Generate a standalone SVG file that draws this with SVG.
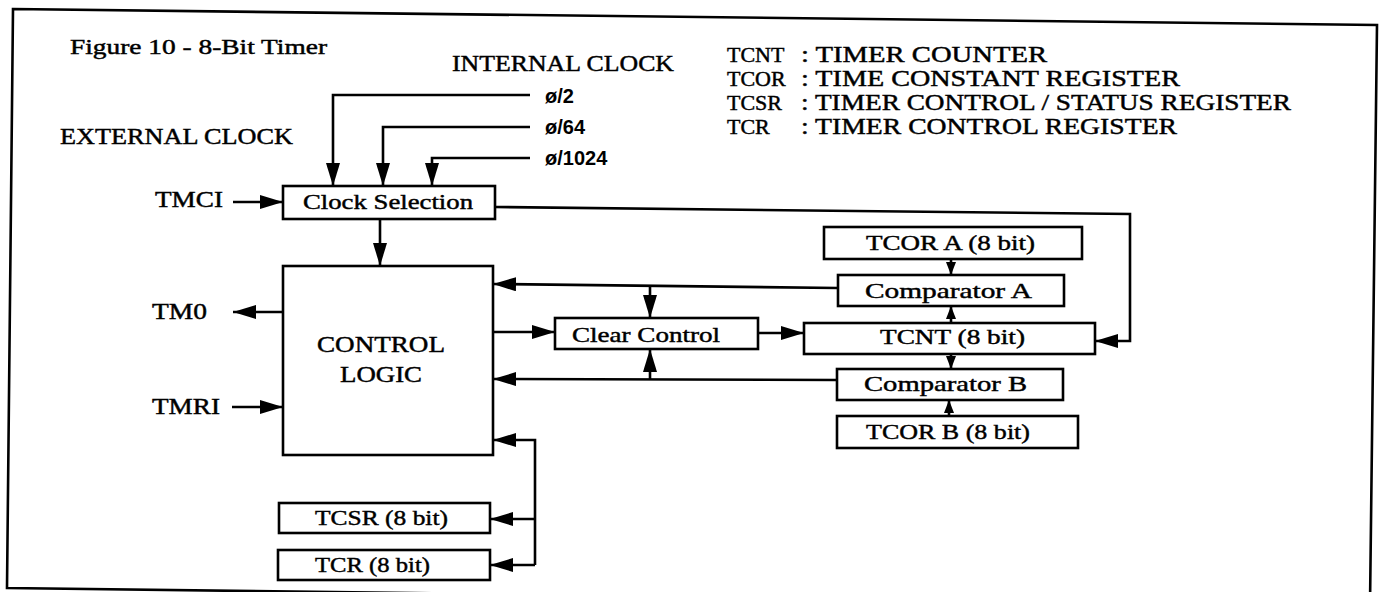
<svg xmlns="http://www.w3.org/2000/svg" width="1382" height="592" viewBox="0 0 1382 592">
<style>
text{font-family:"Liberation Serif","Times New Roman",serif;fill:#000;stroke:#000;stroke-width:0.45}
.lbl{font-size:23px}
.box{font-size:22px}
.leg{font-size:23px}
.ab{font-size:22px}
.phi{font-family:"Liberation Sans",Arial,sans-serif;font-weight:bold;font-size:20px;stroke:none}
rect{fill:#fff;stroke:#000;stroke-width:2.6}
.w{fill:none;stroke:#000;stroke-width:2.6}
</style>
<defs>
<marker id="a" markerUnits="userSpaceOnUse" markerWidth="24" markerHeight="16" refX="23" refY="7" orient="auto"><path d="M0,0 L23,7 L0,14 z" fill="#000"/></marker>
<marker id="s" markerUnits="userSpaceOnUse" markerWidth="14" markerHeight="12" refX="13" refY="5" orient="auto"><path d="M0,0 L13,5 L0,10 z" fill="#000"/></marker>
</defs>
<rect fill="#fff" x="0" y="0" width="1382" height="592" style="stroke:none"/>
<polygon points="13,9 1377,25 1370,605 7,588" fill="none" stroke="#000" stroke-width="2.6"/>
<text x="70" y="54" style="font-size:21px" textLength="257" lengthAdjust="spacingAndGlyphs">Figure 10 - 8-Bit Timer</text>
<text class="lbl" x="452" y="71" textLength="222" lengthAdjust="spacingAndGlyphs">INTERNAL CLOCK</text>
<text class="lbl" x="60" y="144" textLength="233" lengthAdjust="spacingAndGlyphs">EXTERNAL CLOCK</text>
<text class="phi" x="545" y="103">ø/2</text>
<text class="phi" x="545" y="134">ø/64</text>
<text class="phi" x="545" y="165">ø/1024</text>
<g id="legend">
<text class="ab" x="727" y="62">TCNT</text><text class="leg" x="801" y="62" textLength="246" lengthAdjust="spacingAndGlyphs">: TIMER COUNTER</text>
<text class="ab" x="727" y="86">TCOR</text><text class="leg" x="801" y="86" textLength="379" lengthAdjust="spacingAndGlyphs">: TIME CONSTANT REGISTER</text>
<text class="ab" x="727" y="110">TCSR</text><text class="leg" x="801" y="110" textLength="490" lengthAdjust="spacingAndGlyphs">: TIMER CONTROL / STATUS REGISTER</text>
<text class="ab" x="727" y="134">TCR</text><text class="leg" x="801" y="134" textLength="376" lengthAdjust="spacingAndGlyphs">: TIMER CONTROL REGISTER</text>
</g>
<text class="lbl" x="155" y="207" textLength="68" lengthAdjust="spacingAndGlyphs">TMCI</text>
<text class="lbl" x="152" y="319" textLength="55" lengthAdjust="spacingAndGlyphs">TM0</text>
<text class="lbl" x="152" y="414" textLength="68" lengthAdjust="spacingAndGlyphs">TMRI</text>
<g id="clock-selection"><rect x="283" y="186" width="212" height="33"/><text class="box" x="303" y="209" textLength="170" lengthAdjust="spacingAndGlyphs">Clock Selection</text></g>
<g id="control-logic"><rect x="283" y="266" width="210" height="189"/><text class="lbl" x="317" y="352" textLength="128" lengthAdjust="spacingAndGlyphs">CONTROL</text><text class="lbl" x="340" y="382" textLength="82" lengthAdjust="spacingAndGlyphs">LOGIC</text></g>
<g id="clear-control"><rect x="555" y="318" width="203" height="31"/><text class="box" x="572" y="342" textLength="148" lengthAdjust="spacingAndGlyphs">Clear Control</text></g>
<g id="tcor-a"><rect x="824" y="227" width="258" height="32"/><text class="box" x="866" y="250" textLength="169" lengthAdjust="spacingAndGlyphs">TCOR A (8 bit)</text></g>
<g id="comparator-a"><rect x="838" y="275" width="226" height="31"/><text class="box" x="865" y="298" textLength="167" lengthAdjust="spacingAndGlyphs">Comparator A</text></g>
<g id="tcnt"><rect x="804" y="323" width="291" height="31"/><text class="box" x="880" y="344" textLength="145" lengthAdjust="spacingAndGlyphs">TCNT (8 bit)</text></g>
<g id="comparator-b"><rect x="837" y="369" width="226" height="31"/><text class="box" x="864" y="391" textLength="163" lengthAdjust="spacingAndGlyphs">Comparator B</text></g>
<g id="tcor-b"><rect x="837" y="416" width="241" height="32"/><text class="box" x="866" y="439" textLength="164" lengthAdjust="spacingAndGlyphs">TCOR B (8 bit)</text></g>
<g id="tcsr"><rect x="279" y="503" width="211" height="30"/><text class="box" x="315" y="525" textLength="133" lengthAdjust="spacingAndGlyphs">TCSR (8 bit)</text></g>
<g id="tcr"><rect x="278" y="550" width="212" height="30"/><text class="box" x="315" y="572" textLength="115" lengthAdjust="spacingAndGlyphs">TCR (8 bit)</text></g>
<g id="connectors">
<path class="w" d="M530,95 H333 V186" marker-end="url(#a)"/>
<path class="w" d="M530,127 H383 V186" marker-end="url(#a)"/>
<path class="w" d="M530,158 H432 V186" marker-end="url(#a)"/>
<path class="w" d="M233,202 H283" marker-end="url(#a)"/>
<path class="w" d="M380,219 V266" marker-end="url(#a)"/>
<path class="w" d="M495,207 L1130,214 V341 H1095" marker-end="url(#a)"/>
<path class="w" d="M283,312 H233" marker-end="url(#a)"/>
<path class="w" d="M232,407 H283" marker-end="url(#a)"/>
<path class="w" d="M838,288 L493,284" marker-end="url(#a)"/>
<path class="w" d="M650,287 V318" marker-end="url(#a)"/>
<path class="w" d="M650,380 V349" marker-end="url(#a)"/>
<path class="w" d="M493,332 H555" marker-end="url(#a)"/>
<path class="w" d="M837,380 L493,379" marker-end="url(#a)"/>
<path class="w" d="M758,333 H804" marker-end="url(#a)"/>
<path class="w" d="M951,259 V275" marker-end="url(#s)"/>
<path class="w" d="M951,323 V306" marker-end="url(#s)"/>
<path class="w" d="M951,354 V369" marker-end="url(#s)"/>
<path class="w" d="M949,416 V400" marker-end="url(#s)"/>
<path class="w" d="M535,565 V440 H493" marker-end="url(#a)"/>
<path class="w" d="M535,519 H490" marker-end="url(#a)"/>
<path class="w" d="M535,565 H490" marker-end="url(#a)"/>
</g>
</svg>
